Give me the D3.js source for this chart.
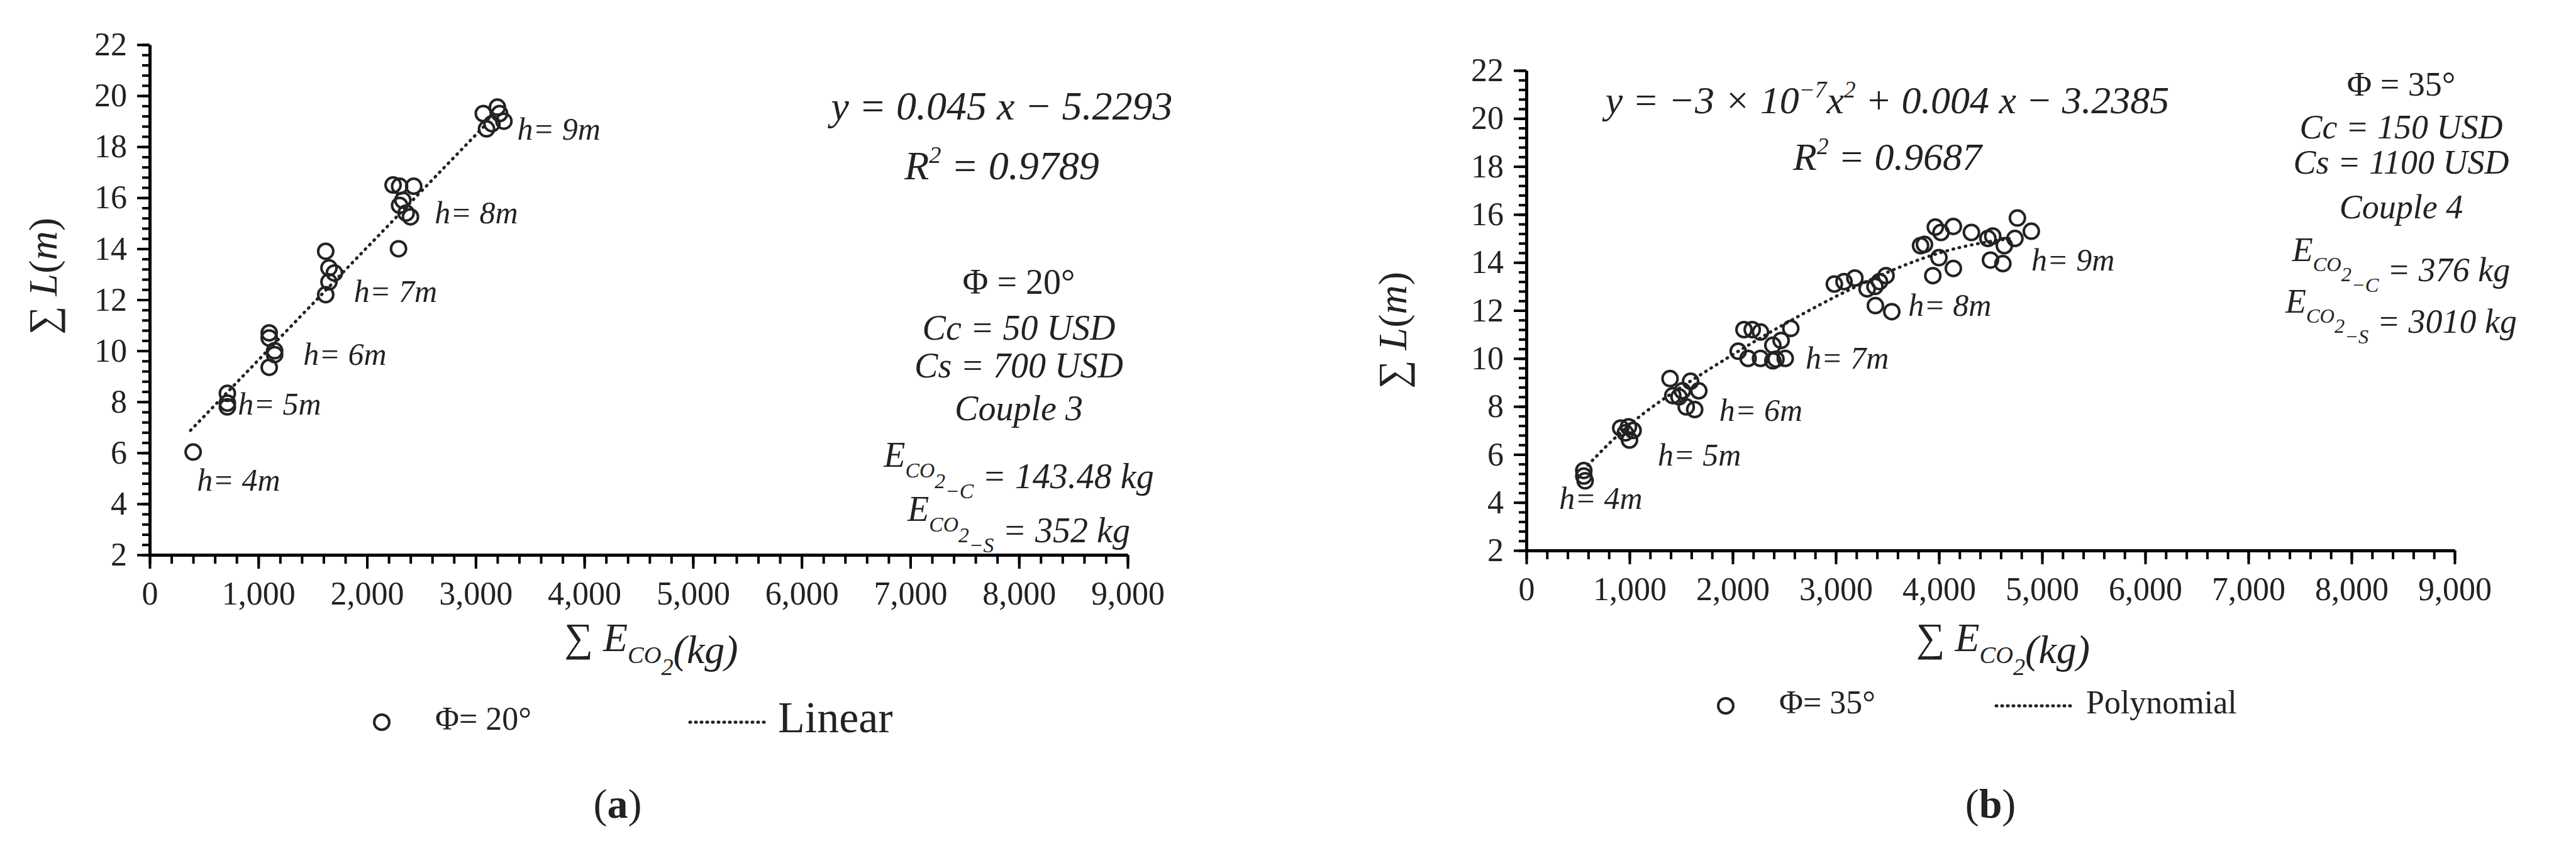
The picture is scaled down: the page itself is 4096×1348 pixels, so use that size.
<!DOCTYPE html>
<html><head><meta charset="utf-8">
<script src="https://cdn.jsdelivr.net/npm/d3@7"></script>
<style>body{margin:0;background:#fff}svg text{font-family:"Liberation Serif","DejaVu Serif",serif;fill:#222}</style>
</head><body><svg id="c" width="4096" height="1348"></svg>
<script>
// panel (a) data, phi = 20°
var aX = [400,715,715,715,1100,1100,1150,1150,1100,1620,1650,1700,1650,1620,2290,2240,2300,2430,2300,2360,2400,2330,3070,3200,3260,3150,3100,3220];
var aY = [6.03,8.33,7.95,7.8,10.7,10.5,10.0,9.85,9.35,13.9,13.25,13.05,12.7,12.2,14.0,16.5,16.45,16.45,15.7,15.4,15.25,15.9,19.3,19.55,19.0,18.9,18.7,19.3];
var aTrendX = [376,3070];
var aTrendY = [6.88,18.77];
var aLabels = [["h= 9m",3383,18.56],["h= 8m",2624,15.27],["h= 7m",1880,12.19],["h= 6m",1414,9.74],["h= 5m",812,7.79],["h= 4m",436,4.8]];

// panel (b) data, phi = 35°
var bX = [557,557,570,915,960,1000,1035,990,1393,1420,1513,1550,1592,1632,1672,1480,2054,2110,2190,2270,2150,2270,2390,2420,2470,2510,2564,2390,2986,3080,3185,3304,3380,3424,3487,3384,3543,3822,3860,3941,3965,4020,4000,4140,4140,4315,4475,4522,4500,4620,4634,4737,4761,4896];
var bY = [5.33,5.1,4.9,7.1,6.9,6.6,7.0,7.15,9.16,8.45,8.65,7.98,9.05,7.87,8.65,8.4,10.3,11.2,11.2,11.1,10.0,10.0,10.55,9.97,10.75,10.0,11.25,9.9,13.1,13.2,13.35,12.9,13.0,13.2,13.45,12.2,11.95,14.7,14.75,13.45,15.47,15.25,14.2,15.5,13.75,15.25,15.0,15.1,14.1,13.95,14.7,15.0,15.85,15.3];
var bTrendX = [597,1035,1672,2470,3264,4060,4700];
var bTrendY = [5.56,7.5,9.3,11.4,13.2,14.6,15.0];
var bLabels = [["h= 9m",4896,13.96],["h= 8m",3702,12.09],["h= 7m",2707,9.88],["h= 6m",1871,7.7],["h= 5m",1274,5.83],["h= 4m",318,4.03]];

var xTicks = [0,1000,2000,3000,4000,5000,6000,7000,8000,9000];
var yTicks = [2,4,6,8,10,12,14,16,18,20,22];

var svg = d3.select("#c");

function eqText(g, x, y, size, parts) {
  var t = g.append("text").attr("x", x).attr("y", y).attr("text-anchor", "middle")
    .attr("font-size", size).attr("font-style", "italic");
  parts.forEach(function (p) {
    var s = t.append("tspan").text(p[0]);
    if (p[1] === "sup") s.attr("dy", -size * 0.4).attr("font-size", size * 0.6);
    if (p[1] === "sub") s.attr("dy", size * 0.3).attr("font-size", size * 0.6);
    if (p[1] === "base") s.attr("dy", p[2]);
    if (p[1] === "n") s.attr("font-style", "normal");
  });
  return t;
}

function panel(o) {
  var g = svg.append("g");
  var x = d3.scaleLinear().domain([0, 9000]).range([o.x0, o.x1]);
  var y = d3.scaleLinear().domain([2, 22]).range([o.y1, o.y0]);

  // minor ticks
  g.append("g").attr("transform", "translate(0," + o.y1 + ")")
    .call(d3.axisBottom(x).ticks(45).tickValues(d3.range(0, 9001, 200)).tickSize(14).tickFormat(""))
    .call(function (a) { a.select(".domain").remove(); a.selectAll("line").attr("stroke-width", 4); });
  g.append("g").attr("transform", "translate(" + o.x0 + ",0)")
    .call(d3.axisLeft(y).tickValues(d3.range(2, 22.01, 0.4)).tickSize(12).tickFormat(""))
    .call(function (a) { a.select(".domain").remove(); a.selectAll("line").attr("stroke-width", 4); });
  // major axes
  g.append("g").attr("transform", "translate(0," + o.y1 + ")")
    .call(d3.axisBottom(x).tickValues(xTicks).tickSize(22).tickPadding(20).tickSizeOuter(0))
    .call(function (a) {
      a.select(".domain").attr("stroke-width", 5);
      a.selectAll("line").attr("stroke-width", 4);
      a.selectAll("text").attr("font-size", 52).attr("font-family", "Liberation Serif").attr("fill", "#222");
    });
  g.append("g").attr("transform", "translate(" + o.x0 + ",0)")
    .call(d3.axisLeft(y).tickValues(yTicks).tickSize(20).tickPadding(16).tickSizeOuter(0))
    .call(function (a) {
      a.select(".domain").attr("stroke-width", 5);
      a.selectAll("line").attr("stroke-width", 4);
      a.selectAll("text").attr("font-size", 52).attr("font-family", "Liberation Serif").attr("fill", "#222");
    });

  // trend
  var line = d3.line().x(function (d) { return x(d[0]); }).y(function (d) { return y(d[1]); }).curve(d3.curveBasis);
  g.append("path").datum(d3.zip(o.tx, o.ty)).attr("d", line).attr("fill", "none")
    .attr("stroke", "#222").attr("stroke-width", 5).attr("stroke-dasharray", "1 9").attr("stroke-linecap", "round");

  g.selectAll("circle.pt").data(d3.zip(o.px, o.py)).join("circle")
    .attr("cx", function (d) { return x(d[0]); }).attr("cy", function (d) { return y(d[1]); })
    .attr("r", 12).attr("fill", "none").attr("stroke", "#222").attr("stroke-width", 4);

  g.selectAll("text.hl").data(o.labels).join("text")
    .attr("x", function (d) { return x(d[1]); }).attr("y", function (d) { return y(d[2]); })
    .attr("dominant-baseline", "middle").attr("font-size", 50).attr("font-style", "italic").text(function (d) { return d[0]; });

  // axis titles
  var yt = g.append("text").attr("transform", "translate(" + o.ytx + "," + o.yty + ") rotate(-90)")
    .attr("text-anchor", "middle").attr("font-size", 64);
  yt.append("tspan").text("∑ ");
  yt.append("tspan").attr("font-style", "italic").text("L");
  yt.append("tspan").text("(");
  yt.append("tspan").attr("font-style", "italic").text("m");
  yt.append("tspan").text(")");
  eqText(g, (o.x0 + o.x1) / 2 + 20, 1035, 64, [["∑ ", "n"], ["E"], ["CO", "sub"], ["2", "sub"], ["(kg)", "base", -64 * 0.3]]);
  return g;
}

var ga = panel({x0: 238, x1: 1793, y0: 71, y1: 882, px: aX, py: aY, tx: aTrendX, ty: aTrendY, labels: aLabels, ytx: 90, yty: 439});
var gb = panel({x0: 2427, x1: 3903, y0: 112, y1: 875, px: bX, py: bY, tx: bTrendX, ty: bTrendY, labels: bLabels, ytx: 2236, yty: 525});

// panel (a) annotations
eqText(ga, 1593, 190, 64, [["y = 0.045 x − 5.2293"]]);
eqText(ga, 1593, 285, 64, [["R"], ["2", "sup"], [" = 0.9789", "base", 64 * 0.4]]);
eqText(ga, 1620, 467, 56, [["Φ = 20°", "n"]]);
eqText(ga, 1620, 540, 56, [["Cc = 50 USD"]]);
eqText(ga, 1620, 600, 56, [["Cs = 700 USD"]]);
eqText(ga, 1620, 668, 56, [["Couple 3"]]);
eqText(ga, 1620, 742, 56, [["E"], ["CO", "sub"], ["2", "sub"], ["−C", "sub"], [" = 143.48 kg", "base", -56 * 0.3]]);
eqText(ga, 1620, 828, 56, [["E"], ["CO", "sub"], ["2", "sub"], ["−S", "sub"], [" = 352 kg", "base", -56 * 0.3]]);

// panel (b) annotations
eqText(gb, 3001, 180, 62, [["y = −3 × 10"], ["−7", "sup"], ["x", "base", 62 * 0.4], ["2", "sup"], [" + 0.004 x − 3.2385", "base", 62 * 0.4]]);
eqText(gb, 3001, 270, 62, [["R"], ["2", "sup"], [" = 0.9687", "base", 62 * 0.4]]);
eqText(gb, 3818, 152, 54, [["Φ = 35°", "n"]]);
eqText(gb, 3818, 220, 54, [["Cc = 150 USD"]]);
eqText(gb, 3818, 276, 54, [["Cs = 1100 USD"]]);
eqText(gb, 3818, 347, 54, [["Couple 4"]]);
eqText(gb, 3818, 415, 54, [["E"], ["CO", "sub"], ["2", "sub"], ["−C", "sub"], [" = 376 kg", "base", -54 * 0.3]]);
eqText(gb, 3818, 497, 54, [["E"], ["CO", "sub"], ["2", "sub"], ["−S", "sub"], [" = 3010 kg", "base", -54 * 0.3]]);

// legends
function legend(cx, cy, lab, lx0, lx1, tl, ts) {
  svg.append("circle").attr("cx", cx).attr("cy", cy).attr("r", 12).attr("fill", "none").attr("stroke", "#222").attr("stroke-width", 4);
  svg.append("text").attr("x", cx + 85).attr("y", cy).attr("dominant-baseline", "middle").attr("font-size", 52).text(lab);
  svg.append("line").attr("x1", lx0).attr("x2", lx1).attr("y1", cy).attr("y2", cy).attr("stroke", "#222")
    .attr("stroke-width", 5).attr("stroke-dasharray", "1 8").attr("stroke-linecap", "round");
  svg.append("text").attr("x", lx1 + 22).attr("y", cy).attr("dominant-baseline", "middle").attr("font-size", ts).text(tl);
}
legend(607, 1148, "Φ= 20°", 1097, 1215, "Linear", 70);
legend(2744, 1122, "Φ= 35°", 3174, 3295, "Polynomial", 52);

[["a", 982], ["b", 3165]].forEach(function (d) {
  var t = svg.append("text").attr("x", d[1]).attr("y", 1300).attr("text-anchor", "middle").attr("font-size", 66);
  t.append("tspan").text("(");
  t.append("tspan").attr("font-weight", "bold").text(d[0]);
  t.append("tspan").text(")");
});
</script></body></html>
